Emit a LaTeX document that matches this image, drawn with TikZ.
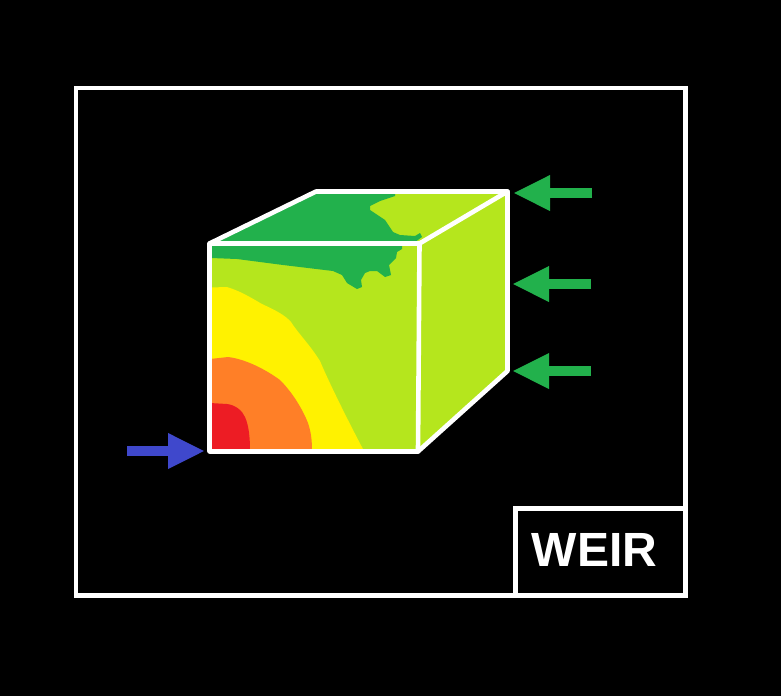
\documentclass[tikz,border=0pt]{standalone}
\usepackage{fontspec}
\setmainfont{Liberation Sans}
\usetikzlibrary{arrows.meta}
\definecolor{limeC}{HTML}{B5E61D}
\definecolor{darkC}{HTML}{22B14C}
\definecolor{yellowC}{HTML}{FFF200}
\definecolor{orangeC}{HTML}{FF7F27}
\definecolor{redC}{HTML}{ED1C24}
\definecolor{blueC}{HTML}{3F48CC}
\tikzset{
  frameline/.style={draw=white,line width=4.6pt,line join=miter},
  cubeline/.style={draw=white,line width=4.6pt,line join=round,line cap=round},
  bigarrow/.style={line width=10pt,-{Triangle[length=37pt,width=33pt]}},
}
\begin{document}
\begin{tikzpicture}[x=1pt,y=-1pt]
\useasboundingbox (0,0) rectangle (781,696);
\fill[black] (0,0) rectangle (781,696);
% cube corners
\coordinate (ftl) at (209.5,243.5);
\coordinate (ftr) at (419.5,243.5);
\coordinate (fbl) at (209.5,451.5);
\coordinate (fbr) at (418,451.5);
\coordinate (btl) at (316,191.5);
\coordinate (btr) at (507.5,191.5);
\coordinate (bbr) at (507.5,371);
% faces
\fill[limeC] (ftl) -- (btl) -- (btr) -- (ftr) -- cycle;
\fill[limeC] (ftr) -- (btr) -- (bbr) -- (fbr) -- cycle;
\fill[limeC] (ftl) -- (ftr) -- (fbr) -- (fbl) -- cycle;
% top face dark patch
\fill[darkC] (ftl) -- (btl) -- (395,191.5) -- (395,196) -- (380,201) -- (370,206) -- (370,210) -- (385,220) -- (393,232) -- (400,235) -- (415,236) -- (420,233) -- (422,237) -- (413,243.5) -- cycle;
% front face dark patch
\fill[darkC] (211,246) -- (402,246) -- (402,249) -- (397,252) -- (396,258) -- (389,265) -- (391,275) -- (385,277) -- (377,271) -- (370,271) -- (365,273) -- (361,280) -- (362,287) -- (357,289) -- (347,283) -- (342,275) -- (333,271) -- (283,265) -- (237,259) -- (211,258) -- cycle;
% contour bands
\fill[yellowC] (210,451) -- (210,287.5) -- (227,287)
  .. controls (240,291) and (250,297) .. (262,304)
  .. controls (275,310) and (285,315) .. (291,322)
  .. controls (298,333) and (310,345) .. (320,361)
  .. controls (328,380) and (345,415) .. (364,451) -- cycle;
\fill[orangeC] (210,451) -- (210,359) -- (228,357)
  .. controls (245,359) and (265,369) .. (280,380)
  .. controls (292,392) and (302,408) .. (308,423)
  .. controls (311,432) and (312,440) .. (312,451) -- cycle;
\fill[redC] (210,451) -- (210,403) -- (227,404)
  .. controls (235,405) and (242,410) .. (245,417)
  .. controls (249,426) and (250,438) .. (250,451) -- cycle;
% cube edges
\draw[cubeline] (fbl) -- (ftl) -- (btl) -- (btr) -- (bbr) -- (fbr) -- cycle;
\draw[cubeline] (ftl) -- (ftr) -- (fbr);
\draw[cubeline] (ftr) -- (btr);
% arrows
\coordinate (blueStart) at (127,451);
\coordinate (blueTip) at (205,451);
\coordinate (g1Start) at (592,193);
\coordinate (g1Tip) at (513,193);
\coordinate (g2Start) at (591,284);
\coordinate (g2Tip) at (512,284);
\coordinate (g3Start) at (591,371);
\coordinate (g3Tip) at (512,371);
\draw[bigarrow,blueC] (blueStart) -- (blueTip);
\draw[bigarrow,darkC] (g1Start) -- (g1Tip);
\draw[bigarrow,darkC] (g2Start) -- (g2Tip);
\draw[bigarrow,darkC] (g3Start) -- (g3Tip);
% frames
\draw[frameline] (76,88) rectangle (685.5,595.5);
\draw[frameline] (515.5,595.5) -- (515.5,508.5) -- (685.5,508.5);
\node[text=white,inner sep=0pt,font=\fontsize{48}{48}\selectfont\bfseries] (weir) at (594.5,549.5) {WEIR};
\end{tikzpicture}
\end{document}
